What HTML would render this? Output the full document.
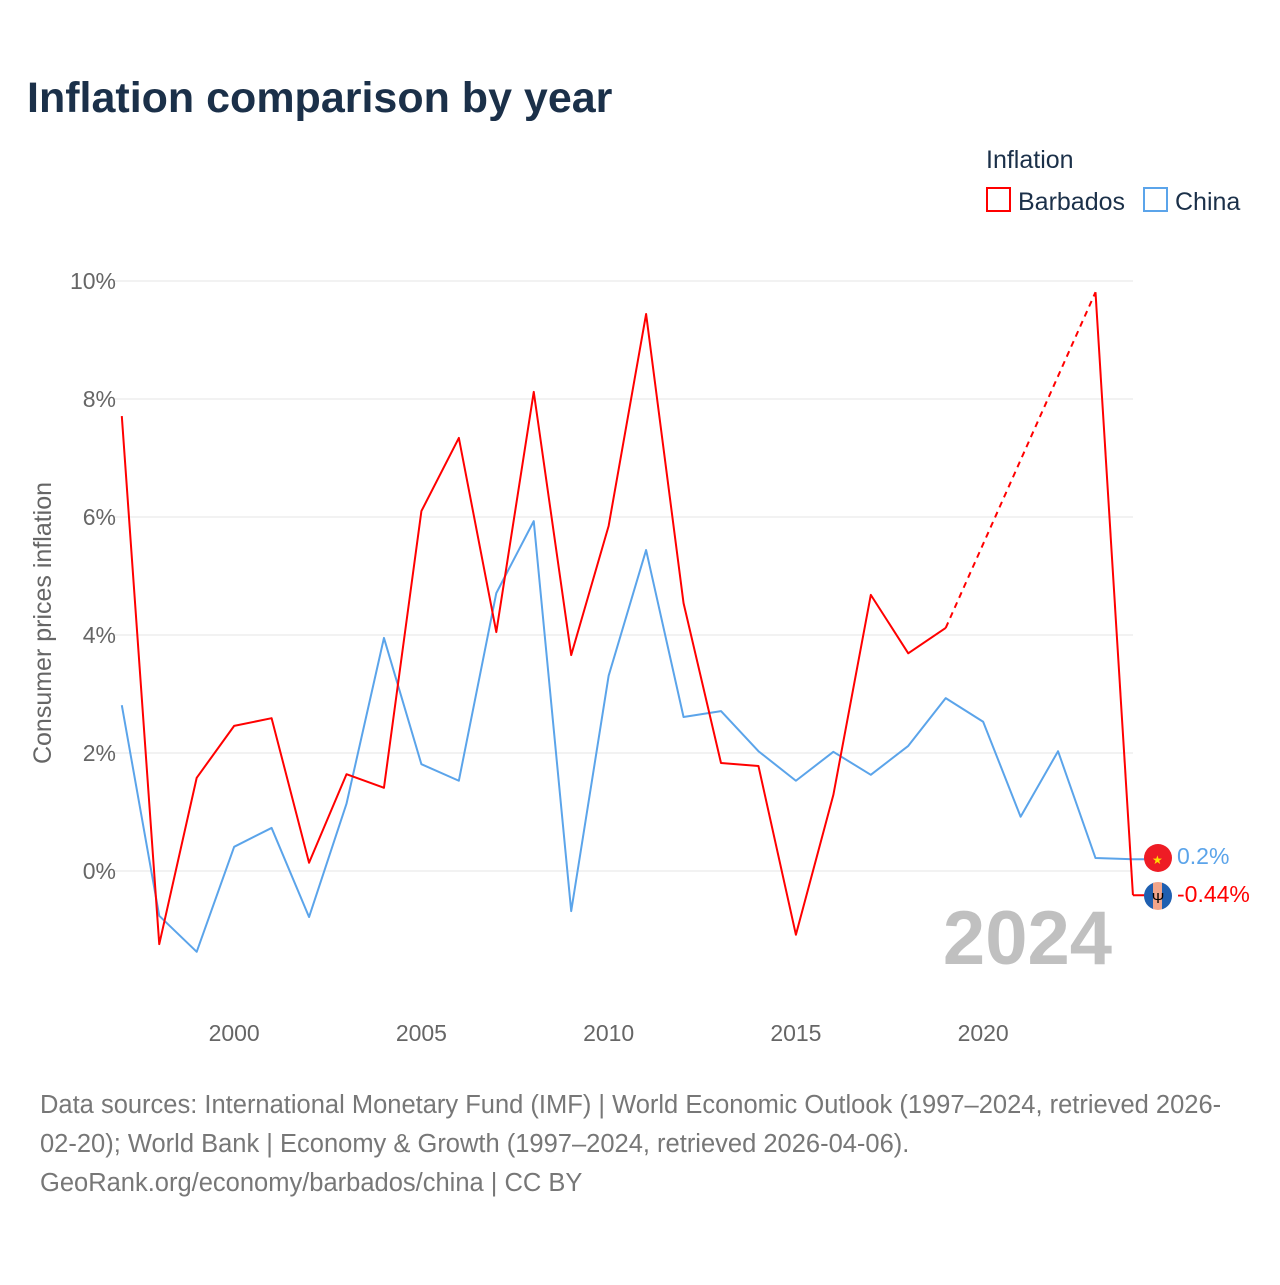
<!DOCTYPE html>
<html><head><meta charset="utf-8"><style>
body{margin:0;background:#fff;font-family:"Liberation Sans",sans-serif}
svg text{font-family:"Liberation Sans",sans-serif}
</style></head><body>
<svg id="chart" width="1280" height="1280" viewBox="0 0 1280 1280" xmlns="http://www.w3.org/2000/svg">
<text x="27" y="112" font-size="43" font-weight="bold" fill="#1b3049">Inflation comparison by year</text>
<text x="986" y="168" font-size="25" fill="#1b3049">Inflation</text>
<g><rect x="987" y="188" width="23" height="23" fill="none" stroke="#ff0000" stroke-width="2"/><text x="1018" y="210" font-size="25" fill="#1b3049">Barbados</text></g>
<g><rect x="1144" y="188" width="23" height="23" fill="none" stroke="#5ba4ea" stroke-width="2"/><text x="1175" y="210" font-size="25" fill="#1b3049">China</text></g>
<text transform="translate(51,623) rotate(-90)" text-anchor="middle" font-size="25" fill="#666">Consumer prices inflation</text>
<g id="grid"></g><g id="series"></g>
<text x="1112" y="964" text-anchor="end" font-size="76" font-weight="bold" fill="#c0c0c0">2024</text>
<g><circle cx="1158" cy="858" r="14" fill="#ee1c25"/><text x="1152" y="864" font-size="12" fill="#ffde00">★</text></g>
<g><clipPath id="bc"><circle cx="1158" cy="896" r="14"/></clipPath><g clip-path="url(#bc)"><rect x="1144" y="882" width="10" height="28" fill="#1f5fb0"/><rect x="1153" y="882" width="10" height="28" fill="#f2a58a"/><rect x="1162" y="882" width="10" height="28" fill="#1f5fb0"/></g><text x="1158" y="903" text-anchor="middle" font-size="15" fill="#000">Ψ</text></g>
<text x="1177" y="864" font-size="23" fill="#5ba4ea">0.2%</text>
<text x="1177" y="902" font-size="23" fill="#ff0000">-0.44%</text>
<text font-size="25.5" fill="#777"><tspan x="40" y="1113">Data sources: International Monetary Fund (IMF) | World Economic Outlook (1997–2024, retrieved 2026-</tspan><tspan x="40" y="1152">02-20); World Bank | Economy &amp; Growth (1997–2024, retrieved 2026-04-06).</tspan><tspan x="40" y="1191">GeoRank.org/economy/barbados/china | CC BY</tspan></text>
</svg>
<script>
const years=[1997,1998,1999,2000,2001,2002,2003,2004,2005,2006,2007,2008,2009,2010,2011,2012,2013,2014,2015,2016,2017,2018,2019,2020,2021,2022,2023,2024];
const barbados=[7.71,-1.24,1.58,2.46,2.59,0.14,1.64,1.41,6.10,7.34,4.05,8.12,3.66,5.85,9.44,4.54,1.83,1.78,-1.08,1.29,4.68,3.69,4.12,null,null,null,9.81,-0.41];
const china=[2.81,-0.76,-1.37,0.41,0.73,-0.78,1.14,3.95,1.81,1.53,4.71,5.93,-0.68,3.31,5.44,2.61,2.71,2.03,1.53,2.02,1.63,2.12,2.93,2.53,0.92,2.03,0.22,0.2];
const yTicks=[0,2,4,6,8,10];
const xTicks=[2000,2005,2010,2015,2020];
const NS="http://www.w3.org/2000/svg";
const X=y=>121.8+(y-1997)*37.45;
const Y=v=>871-v*59;
const g=document.getElementById('grid'),s=document.getElementById('series');
function mk(t,a,p){const e=document.createElementNS(NS,t);for(const k in a)e.setAttribute(k,a[k]);p.appendChild(e);return e;}
yTicks.forEach(v=>{
 const l=mk('line',{x1:115,x2:1133,y1:Y(v),y2:Y(v),stroke:'#e6e6e6','stroke-width':1},g);
 
 
 const t=mk('text',{x:116,y:Y(v)+8,'text-anchor':'end','font-size':23,fill:'#666'},g);t.textContent=v+'%';
 
 
});
xTicks.forEach(v=>{
 const t=mk('text',{x:X(v),y:1041,'text-anchor':'middle','font-size':23,fill:'#666'},g);t.textContent=v;
 
 
});
function draw(vals,color,name){
 let segs=[],cur=[];
 vals.forEach((v,i)=>{if(v==null){if(cur.length)segs.push(cur);cur=[];}else cur.push([X(years[i]),Y(v)]);});
 if(cur.length)segs.push(cur);
 segs.forEach(sg=>{
  const p=mk('polyline',{points:sg.map(q=>q.join(',')).join(' '),fill:'none',stroke:color,'stroke-width':2,'stroke-linejoin':'round'},s);
  
  
 });
 for(let i=0;i<segs.length-1;i++){
  const a=segs[i][segs[i].length-1],b=segs[i+1][0];
  const d=mk('line',{x1:a[0],y1:a[1],x2:b[0],y2:b[1],stroke:color,'stroke-width':2,'stroke-dasharray':'6,5'},s);
  
  
 }
}
draw(china,'#5ba4ea','china');
draw(barbados,'#ff0000','barbados');
const e1=mk('line',{x1:X(2024),y1:Y(china[27]),x2:1158,y2:Y(china[27]),stroke:'#5ba4ea','stroke-width':2},s);


const e2=mk('line',{x1:X(2024),y1:Y(barbados[27]),x2:1158,y2:Y(barbados[27]),stroke:'#ff0000','stroke-width':2},s);


</script>
</body></html>
